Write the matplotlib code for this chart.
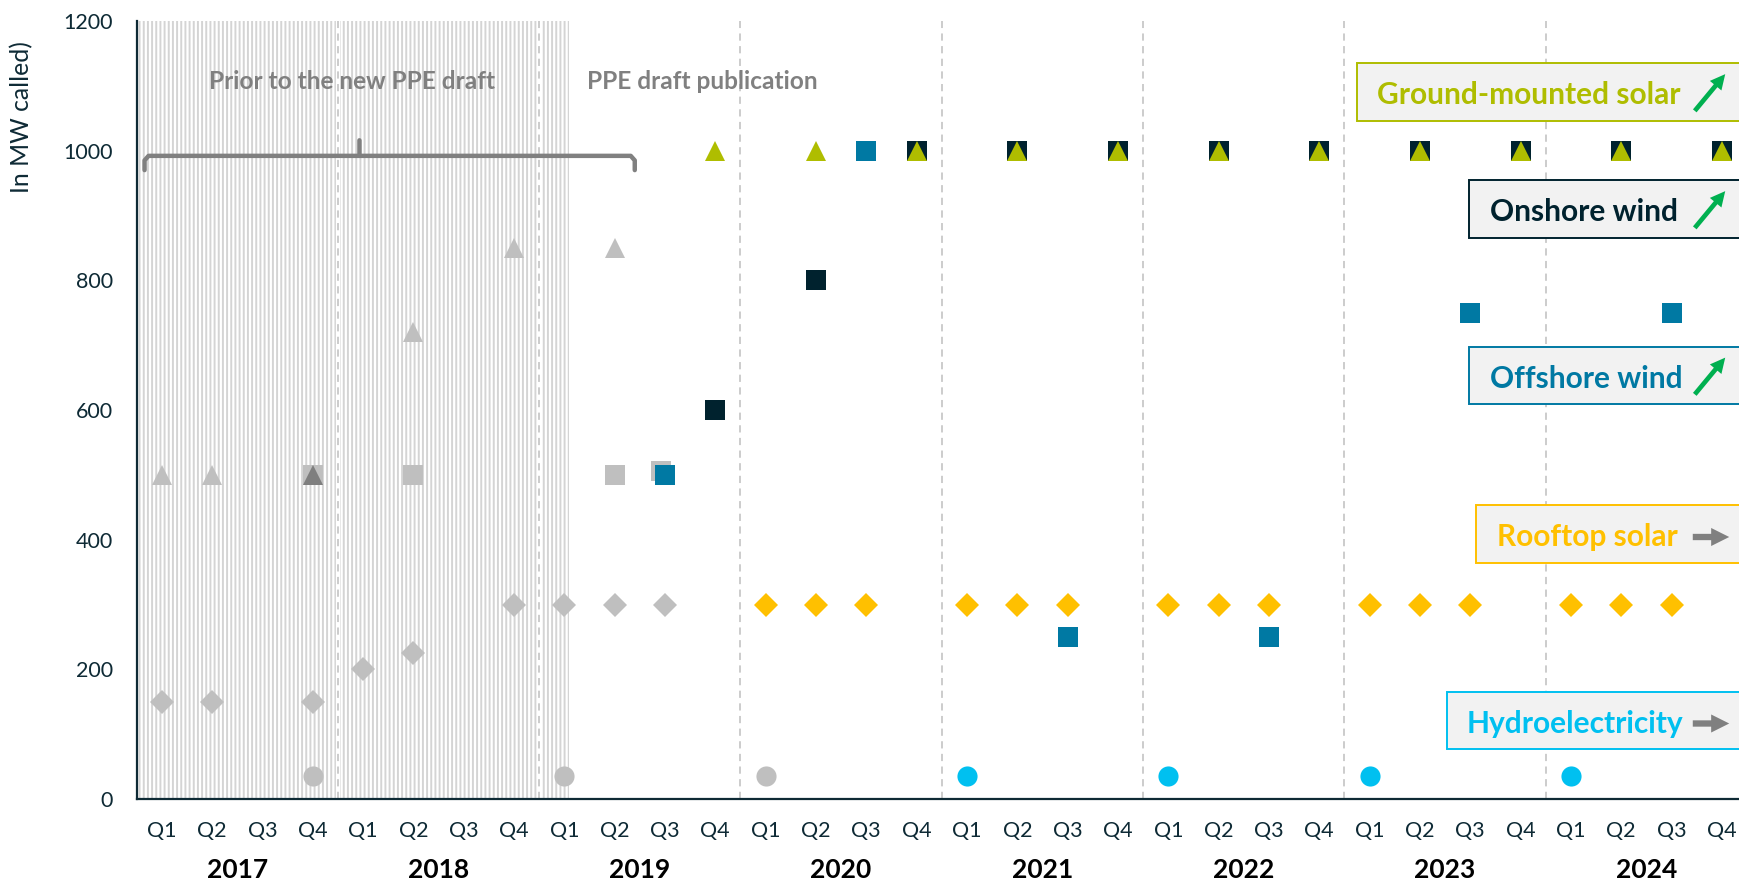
import matplotlib
matplotlib.use('Agg')
import matplotlib.pyplot as plt
from matplotlib.patches import Rectangle, FancyArrowPatch
from matplotlib.transforms import offset_copy

plt.rcParams['font.family'] = ['Lato', 'DejaVu Sans']
plt.rcParams['hatch.linewidth'] = 1.4

# x axis: 8 years x 4 quarters, markers sit on the quarter index
quarters = ['Q1', 'Q2', 'Q3', 'Q4'] * 8
years = ['2017', '2018', '2019', '2020', '2021', '2022', '2023', '2024']

# calls before the new PPE draft (grey)
old_solar_x = [0, 1, 5, 7, 9]
old_solar_y = [500, 500, 720, 850, 850]
old_solar_dark_x = [3]
old_solar_dark_y = [500]
old_wind_x = [3, 5, 9]
old_wind_y = [500, 500, 500]
old_wind_shift_x = [10]   # drawn slightly up-left, behind the blue square
old_wind_shift_y = [500]
old_roof_x = [0, 1, 3, 4, 5, 7, 8, 9, 10]
old_roof_y = [150, 150, 150, 200, 225, 300, 300, 300, 300]
old_hydro_x = [3, 8, 12]
old_hydro_y = [35, 35, 35]

# calls under the PPE draft
ground_x = [11, 13, 15, 17, 19, 21, 23, 25, 27, 29, 31]
ground_y = [1000, 1000, 1000, 1000, 1000, 1000, 1000, 1000, 1000, 1000, 1000]
onshore_x = [11, 13, 15, 17, 19, 21, 23, 25, 27, 29, 31]
onshore_y = [600, 800, 1000, 1000, 1000, 1000, 1000, 1000, 1000, 1000, 1000]
offshore_x = [10, 14, 18, 22, 26, 30]
offshore_y = [500, 1000, 250, 250, 750, 750]
roof_x = [12, 13, 14, 16, 17, 18, 20, 21, 22, 24, 25, 26, 28, 29, 30]
roof_y = [300, 300, 300, 300, 300, 300, 300, 300, 300, 300, 300, 300, 300, 300, 300]
hydro_x = [16, 20, 24, 28]
hydro_y = [35, 35, 35, 35]

c_ground = '#AFBD00'
c_onshore = '#00222E'
c_offshore = '#0079A3'
c_roof = '#FFC000'
c_hydro = '#00C0F0'
c_grey = '#BFBFBF'
c_text = '#0E2A35'

W, H = 1740, 881
fig = plt.figure(figsize=(W / 100, H / 100), dpi=100)
ax = fig.add_axes([136.5 / W, 1 - 799 / H, 1 - 136.5 / W, (799 - 21) / H])
ax.set_xlim(-0.5, 31.36)
ax.set_ylim(0, 1200)

# shaded "before the draft" period
ax.axvspan(-0.5, 8.1, facecolor='white', edgecolor='#D4D4D4', hatch='||||', linewidth=0, zorder=0)

# year separators
for k in range(1, 8):
    xb = 4 * k - 0.5
    ax.axvline(xb, color='white', lw=3, zorder=1)
    ax.axvline(xb, color='#C8C8C8', lw=1.3, ls=(0, (4, 3)), zorder=1.1)

mk = dict(ls='none', markeredgewidth=0)
ax.plot(old_solar_x, old_solar_y, marker='^', ms=14.5, color=c_grey, zorder=3, **mk)
ax.plot(old_wind_x, old_wind_y, marker='s', ms=13.7, color=c_grey, zorder=3, **mk)
ax.plot(old_wind_shift_x, old_wind_shift_y, marker='s', ms=13.7, color=c_grey, zorder=3,
        transform=offset_copy(ax.transData, fig=fig, x=-3.5, y=3.5, units='dots'), **mk)
ax.plot(old_solar_dark_x, old_solar_dark_y, marker='^', ms=14.5, color='#7F7F7F', zorder=4, **mk)
ax.plot(old_roof_x, old_roof_y, marker='D', ms=12.5, color=c_grey, zorder=3, **mk)
ax.plot(old_hydro_x, old_hydro_y, marker='o', ms=14.5, color=c_grey, zorder=3, **mk)

ax.plot(onshore_x, onshore_y, marker='s', ms=13.7, color=c_onshore, zorder=5, **mk)
ax.plot(offshore_x, offshore_y, marker='s', ms=13.7, color=c_offshore, zorder=5, **mk)
ax.plot(ground_x, ground_y, marker='^', ms=14, color=c_ground, zorder=6, **mk)
ax.plot(roof_x, roof_y, marker='D', ms=12.5, color=c_roof, zorder=5, **mk)
ax.plot(hydro_x, hydro_y, marker='o', ms=14.5, color=c_hydro, zorder=5, **mk)

# brace over the pre-draft period
bc = '#808080'
ax.plot([-0.34, -0.34, -0.26, 3.93, 3.93], [970, 985, 992, 992, 1016], color=bc, lw=3.2,
        solid_capstyle='round', solid_joinstyle='round', zorder=7, clip_on=False)
ax.plot([3.93, 9.32, 9.40, 9.40], [992, 992, 985, 970], color=bc, lw=3.2,
        solid_capstyle='round', solid_joinstyle='round', zorder=7, clip_on=False)
ax.text(3.78, 1106, 'Prior to the new PPE draft', color='#808080', fontsize=17.6,
        fontweight='bold', ha='center', va='center', zorder=8)
ax.text(8.46, 1106, 'PPE draft publication', color='#808080', fontsize=17.6,
        fontweight='bold', ha='left', va='center', zorder=8)

# axes styling
for s in ['top', 'right']:
    ax.spines[s].set_visible(False)
for s in ['left', 'bottom']:
    ax.spines[s].set_color(c_text)
    ax.spines[s].set_linewidth(1.6)
ax.set_xticks(range(len(quarters)))
ax.set_xticklabels(quarters)
ax.set_yticks(range(0, 1201, 200))
ax.tick_params(length=0, labelsize=15.5, labelcolor=c_text)
ax.tick_params(axis='x', pad=16)
ax.tick_params(axis='y', pad=17)
for i, y in enumerate(years):
    ax.annotate(y, xy=(4 * i + 1.5, 0), xycoords=('data', 'axes fraction'),
                xytext=(0, -71), textcoords='offset pixels', ha='center', va='center',
                fontsize=19, fontweight='bold', color='black')
fig.text(22 / W, 1 - 117 / H, 'In MW called)', rotation=90, ha='center', va='center',
         fontsize=17.8, color=c_text)

# labelled boxes on the right
def px(x, y):
    return (x / W, 1 - y / H)

boxes = [
    ('Ground-mounted solar', c_ground, 1357, 63, 121, 1377, 'up'),
    ('Onshore wind', c_onshore, 1469, 180, 238, 1490, 'up'),
    ('Offshore wind', c_offshore, 1469, 347, 404, 1490, 'up'),
    ('Rooftop solar', c_roof, 1476, 505, 563, 1497, 'flat'),
    ('Hydroelectricity', c_hydro, 1447, 692, 749, 1467, 'flat'),
]
for label, col, x0, y0, y1, tx, trend in boxes:
    r = Rectangle(px(x0, y1), (W + 10 - x0) / W, (y1 - y0) / H, transform=fig.transFigure,
                  facecolor='#F2F2F2', edgecolor=col, lw=1.4, zorder=10)
    fig.add_artist(r)
    yc = (y0 + y1) / 2
    fig.text(*px(tx, yc + 3), label, color=col, fontsize=21.5, fontweight='bold',
             ha='left', va='center', zorder=11)
    if trend == 'up':
        a = FancyArrowPatch(px(1693, yc + 21), px(1727, yc - 20), transform=fig.transFigure,
                            arrowstyle='simple,head_length=0.9,head_width=0.9,tail_width=0.28',
                            mutation_scale=12, color='#00B050', lw=0, zorder=12)
    else:
        a = FancyArrowPatch(px(1690, yc + 3), px(1732, yc + 3), transform=fig.transFigure,
                            arrowstyle='simple,head_length=1.0,head_width=1.0,tail_width=0.35',
                            mutation_scale=13, color='#808080', lw=0, zorder=12)
    fig.add_artist(a)

fig.savefig('out.png', dpi=100)
